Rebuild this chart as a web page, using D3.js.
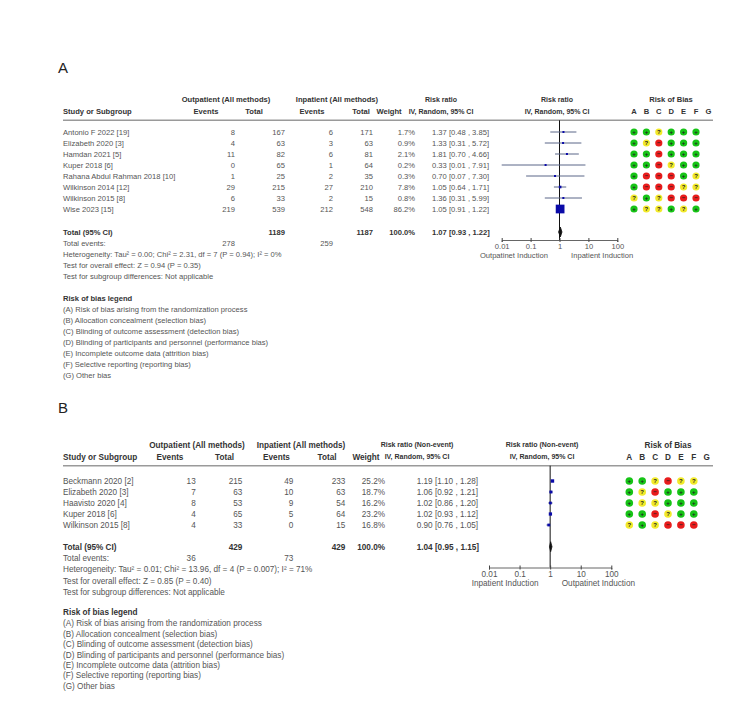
<!DOCTYPE html>
<html>
<head>
<meta charset="utf-8">
<script src="https://cdn.jsdelivr.net/npm/d3@7"></script>
<style>
  body { margin: 0; background: #fff; }
  text { font-family: "Liberation Sans", Arial, sans-serif; }
</style>
</head>
<body>
<div id="chart"></div>
<script>
// ---- panel A data (outpatient vs inpatient, events) ----
const studiesA = ["Antonio F 2022 [19]", "Elizabeth 2020 [3]", "Hamdan 2021 [5]", "Kuper 2018 [6]",
  "Rahana Abdul Rahman 2018 [10]", "Wilkinson 2014 [12]", "Wilkinson 2015 [8]", "Wise 2023 [15]"];
const outEventsA = [8, 4, 11, 0, 1, 29, 6, 219];
const outTotalA = [167, 63, 82, 65, 25, 215, 33, 539];
const inEventsA = [6, 3, 6, 1, 2, 27, 2, 212];
const inTotalA = [171, 63, 81, 64, 35, 210, 15, 548];
const weightA = [1.7, 0.9, 2.1, 0.2, 0.3, 7.8, 0.8, 86.2];
const rrA = [1.37, 1.33, 1.81, 0.33, 0.70, 1.05, 1.36, 1.05];
const lowerA = [0.48, 0.31, 0.70, 0.01, 0.07, 0.64, 0.31, 0.91];
const upperA = [3.85, 5.72, 4.66, 7.91, 7.30, 1.71, 5.99, 1.22];
const biasA = ["++?+++", "+?-+++", "++-+++", "++-?++", "+---+?", "+---??", "?+?---", "+??+?+"];
const totalsA = { out: 1189, inp: 1187, outEv: 278, inEv: 259, rr: 1.07, lo: 0.93, hi: 1.22 };
const infoA = ["Heterogeneity: Tau\u00b2 = 0.00; Chi\u00b2 = 2.31, df = 7 (P = 0.94); I\u00b2 = 0%",
  "Test for overall effect: Z = 0.94 (P = 0.35)",
  "Test for subgroup differences: Not applicable"];
const sideLabelsA = ["Outpatinet Induction", "Inpatient Induction"];

// ---- panel B data (non-event) ----
const studiesB = ["Beckmann 2020 [2]", "Elizabeth 2020 [3]", "Haavisto 2020 [4]", "Kuper 2018 [6]", "Wilkinson 2015 [8]"];
const outEventsB = [13, 7, 8, 4, 4];
const outTotalB = [215, 63, 53, 65, 33];
const inEventsB = [49, 10, 9, 5, 0];
const inTotalB = [233, 63, 54, 64, 15];
const weightB = [25.2, 18.7, 16.2, 23.2, 16.8];
const rrB = [1.19, 1.06, 1.02, 1.02, 0.90];
const lowerB = [1.10, 0.92, 0.86, 0.93, 0.76];
const upperB = [1.28, 1.21, 1.20, 1.12, 1.05];
const biasB = ["++?-??", "+?-+++", "+??+++", "++-?++", "?+?---"];
const totalsB = { out: 429, inp: 429, outEv: 36, inEv: 73, rr: 1.04, lo: 0.95, hi: 1.15 };
const infoB = ["Heterogeneity: Tau\u00b2 = 0.01; Chi\u00b2 = 13.96, df = 4 (P = 0.007); I\u00b2 = 71%",
  "Test for overall effect: Z = 0.85 (P = 0.40)",
  "Test for subgroup differences: Not applicable"];
const sideLabelsB = ["Inpatient Induction", "Outpatinet Induction"];

// ---- shared ----
const tickValues = [0.01, 0.1, 1, 10, 100];
const tickLabels = ["0.01", "0.1", "1", "10", "100"];
const robLetters = ["A", "B", "C", "D", "E", "F", "G"];
const legendItems = [
  "(A) Risk of bias arising from the randomization process",
  "(B) Allocation concealment (selection bias)",
  "(C) Blinding of outcome assessment (detection bias)",
  "(D) Blinding of participants and personnel (performance bias)",
  "(E) Incomplete outcome data (attrition bias)",
  "(F) Selective reporting (reporting bias)",
  "(G) Other bias"];

const f2 = d3.format(".2f"), f1 = d3.format(".1f");
const robColor = { "+": "#16c416", "-": "#e81c1c", "?": "#f2ea2a" };
const robSymbol = { "+": "+", "-": "\u2212", "?": "?" };

const svg = d3.select("#chart").append("svg").attr("width", 750).attr("height", 708);

function panel(p, d) {
  const g = svg.append("g");
  const txt = (x, y, s, o = {}) => g.append("text")
    .attr("x", x).attr("y", y).attr("dy", "0.35em")
    .attr("font-size", o.size || p.font)
    .attr("font-weight", o.bold ? "bold" : null)
    .attr("fill", o.bold ? "#333" : "#555")
    .attr("text-anchor", o.anchor || "start")
    .text(s);

  // panel letter
  g.append("text").attr("x", 58).attr("y", p.labelY).attr("dy", "0.36em")
    .attr("font-size", 15).attr("fill", "#222").text(p.label);

  // headers
  const h = p.head;
  txt(h.outGroup, p.head1, "Outpatient (All methods)", { bold: 1, anchor: "middle" });
  txt(h.inGroup, p.head1, "Inpatient (All methods)", { bold: 1, anchor: "middle" });
  txt(h.rr, p.head1, d.rrTitle, { bold: 1, anchor: "middle", size: p.headFont });
  txt(h.forest, p.head1, d.rrTitle, { bold: 1, anchor: "middle", size: p.headFont });
  txt(h.rob, p.head1, "Risk of Bias", { bold: 1, anchor: "middle" });
  txt(p.cols.name, p.head2, "Study or Subgroup", { bold: 1 });
  txt(h.outEv, p.head2, "Events", { bold: 1, anchor: "middle" });
  txt(h.outTot, p.head2, "Total", { bold: 1, anchor: "middle" });
  txt(h.inEv, p.head2, "Events", { bold: 1, anchor: "middle" });
  txt(h.inTot, p.head2, "Total", { bold: 1, anchor: "middle" });
  txt(h.weight, p.head2, "Weight", { bold: 1, anchor: "middle" });
  txt(h.rr, p.head2, "IV, Random, 95% CI", { bold: 1, anchor: "middle", size: p.headFont });
  txt(h.forest, p.head2, "IV, Random, 95% CI", { bold: 1, anchor: "middle", size: p.headFont });
  robLetters.forEach((l, j) => txt(p.robX0 + j * p.robStep, p.head2, l, { bold: 1, anchor: "middle" }));

  g.append("line").attr("x1", 63).attr("x2", 713).attr("y1", p.hline).attr("y2", p.hline)
    .attr("stroke", "#9a9a9a").attr("stroke-width", 1.5);

  // study rows
  const c = p.cols;
  const rowY = i => p.row0 + i * p.rowStep;
  d.studies.forEach((s, i) => {
    const y = rowY(i);
    txt(c.name, y, s);
    txt(c.outEv, y, d.outEv[i], { anchor: "end" });
    txt(c.outTot, y, d.outTot[i], { anchor: "end" });
    txt(c.inEv, y, d.inEv[i], { anchor: "end" });
    txt(c.inTot, y, d.inTot[i], { anchor: "end" });
    txt(c.weight, y, f1(d.weight[i]) + "%", { anchor: "end" });
    txt(c.rr, y, `${f2(d.rr[i])} [${f2(d.lo[i])} , ${f2(d.hi[i])}]`);
  });

  // totals
  const t = d.totals;
  txt(c.name, p.totalY, "Total (95% CI)", { bold: 1 });
  txt(c.outTot, p.totalY, t.out, { bold: 1, anchor: "end" });
  txt(c.inTot, p.totalY, t.inp, { bold: 1, anchor: "end" });
  txt(c.weight, p.totalY, "100.0%", { bold: 1, anchor: "end" });
  txt(c.rr, p.totalY, `${f2(t.rr)} [${f2(t.lo)} , ${f2(t.hi)}]`, { bold: 1 });
  txt(c.name, p.eventsY, "Total events:");
  txt(c.outEv, p.eventsY, t.outEv, { anchor: "end" });
  txt(c.inEv, p.eventsY, t.inEv, { anchor: "end" });
  d.info.forEach((s, k) => txt(c.name, p.infoY[k], s));

  // legend
  txt(c.name, p.legendY, "Risk of bias legend", { bold: 1 });
  legendItems.forEach((s, k) => txt(c.name, p.legend0 + k * p.legendStep, s));

  // forest plot
  const x = d3.scaleLog().domain([0.01, 100]).range(p.range);
  g.append("line").attr("x1", x(1)).attr("x2", x(1)).attr("y1", p.hline).attr("y2", p.axisY)
    .attr("stroke", "#111").attr("stroke-width", 1);

  const ax = g.append("g").attr("transform", `translate(0,${p.axisY})`)
    .call(d3.axisBottom(x).tickValues(tickValues).tickFormat((v, i) => tickLabels[i]).tickSizeOuter(0).tickSize(2));
  ax.select(".domain").attr("stroke", "#666");
  ax.selectAll(".tick line").attr("y1", -2).attr("y2", 2).attr("stroke", "#444");
  ax.selectAll(".tick text").attr("y", p.tickDy).attr("dy", "0.35em")
    .attr("font-size", p.font).attr("fill", "#555").attr("font-family", '"Liberation Sans", Arial, sans-serif');
  txt(x(1) - 11.6, p.axisY + p.sideDy, d.side[0], { anchor: "end" });
  txt(x(1) + 11.6, p.axisY + p.sideDy, d.side[1]);

  d.studies.forEach((s, i) => {
    const y = rowY(i);
    g.append("line").attr("x1", x(d.lo[i])).attr("x2", x(d.hi[i])).attr("y1", y).attr("y2", y)
      .attr("stroke", "#5a6688").attr("stroke-width", 1);
    const side = Math.max(2, Math.sqrt(d.weight[i]) * p.boxScale);
    g.append("rect").attr("x", x(d.rr[i]) - side / 2).attr("y", y - side / 2)
      .attr("width", side).attr("height", side).attr("fill", "#0a0aa8");
  });
  const ty = p.totalY;
  g.append("path")
    .attr("d", `M${x(t.lo)},${ty} L${x(t.rr)},${ty - 5} L${x(t.hi)},${ty} L${x(t.rr)},${ty + 5} Z`)
    .attr("fill", "#111").attr("stroke", "#111").attr("stroke-width", 0.8);

  // risk of bias dots
  d.bias.forEach((row, i) => {
    row.split("").forEach((ch, j) => {
      const cx = p.robX0 + j * p.robStep, cy = rowY(i);
      g.append("circle").attr("cx", cx).attr("cy", cy).attr("r", p.robR).attr("fill", robColor[ch]);
      g.append("text").attr("x", cx).attr("y", cy).attr("dy", "0.36em").attr("text-anchor", "middle")
        .attr("font-size", 6).attr("font-weight", "bold").attr("fill", "#222").text(robSymbol[ch]);
    });
  });
}

panel({
  label: "A", labelY: 68, font: 7.6, headFont: 7,
  head1: 99.6, head2: 111.3, hline: 120.3, row0: 132, rowStep: 11,
  totalY: 232, eventsY: 243, infoY: [254, 265, 276], legendY: 298.5, legend0: 309.5, legendStep: 11,
  cols: { name: 63, outEv: 235, outTot: 285, inEv: 333, inTot: 373, weight: 415, rr: 432 },
  head: { outGroup: 226, outEv: 206, outTot: 254, inGroup: 337, inEv: 312, inTot: 361, weight: 389, rr: 441, forest: 557, rob: 671 },
  axisY: 240, range: [501.7, 617.3], tickDy: 6.6, sideDy: 15,
  robX0: 634, robStep: 12.4, robR: 3.6, boxScale: 0.94
}, {
  studies: studiesA, outEv: outEventsA, outTot: outTotalA, inEv: inEventsA, inTot: inTotalA,
  weight: weightA, rr: rrA, lo: lowerA, hi: upperA, bias: biasA, totals: totalsA, info: infoA,
  side: sideLabelsA, rrTitle: "Risk ratio"
});

panel({
  label: "B", labelY: 408, font: 8.2, headFont: 7,
  head1: 445, head2: 456.7, hline: 465.7, row0: 481, rowStep: 11,
  totalY: 546.7, eventsY: 558, infoY: [569.5, 581, 592.5], legendY: 612.5, legend0: 623.5, legendStep: 10.4,
  cols: { name: 63, outEv: 195.7, outTot: 242.3, inEv: 293.3, inTot: 345.3, weight: 385, rr: 416.7 },
  head: { outGroup: 197, outEv: 170, outTot: 224.5, inGroup: 301, inEv: 276.5, inTot: 327, weight: 366, rr: 417, forest: 542, rob: 668 },
  axisY: 567.5, range: [489, 611.3], tickDy: 6.7, sideDy: 15.7,
  robX0: 629.3, robStep: 12.9, robR: 3.8, boxScale: 0.68
}, {
  studies: studiesB, outEv: outEventsB, outTot: outTotalB, inEv: inEventsB, inTot: inTotalB,
  weight: weightB, rr: rrB, lo: lowerB, hi: upperB, bias: biasB, totals: totalsB, info: infoB,
  side: sideLabelsB, rrTitle: "Risk ratio (Non-event)"
});
</script>
</body>
</html>
